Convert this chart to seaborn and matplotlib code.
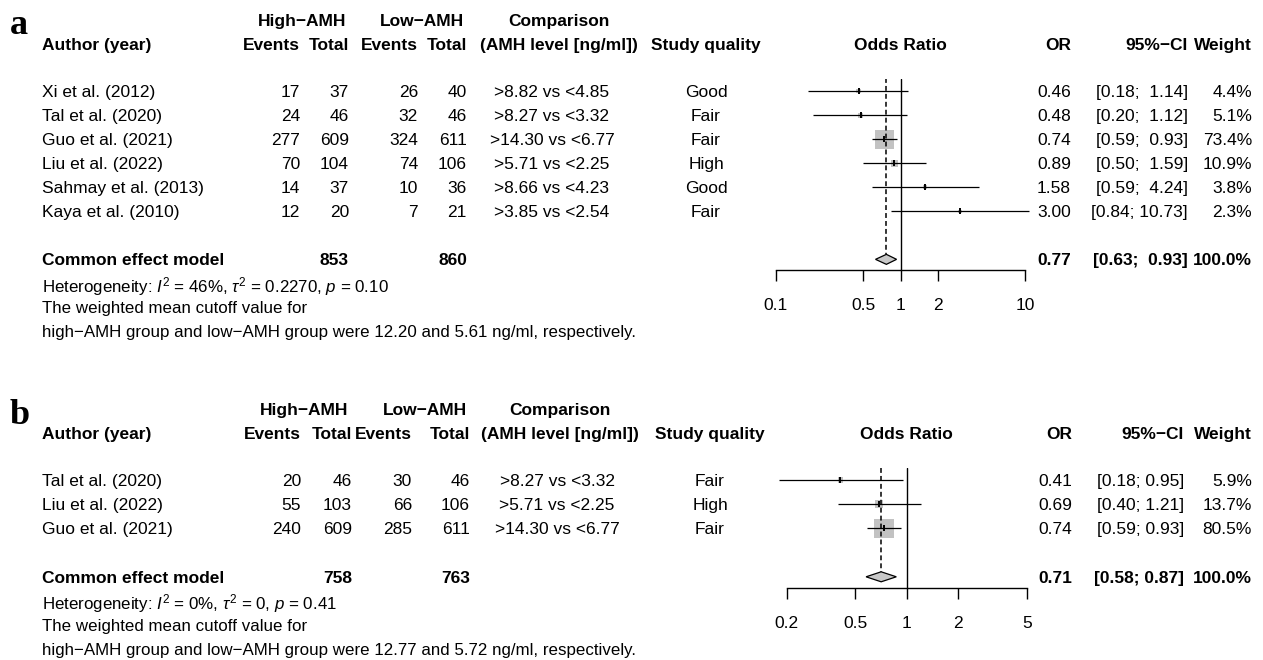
import matplotlib
matplotlib.use("Agg")
import matplotlib.pyplot as plt
from matplotlib.patches import Polygon
import seaborn as sns

# ---- panel a data ----
a_author = ["Xi et al. (2012)", "Tal et al. (2020)", "Guo et al. (2021)",
            "Liu et al. (2022)", "Sahmay et al. (2013)", "Kaya et al. (2010)"]
a_ev_high = [17, 24, 277, 70, 14, 12]
a_tot_high = [37, 46, 609, 104, 37, 20]
a_ev_low = [26, 32, 324, 74, 10, 7]
a_tot_low = [40, 46, 611, 106, 36, 21]
a_comp = [">8.82 vs <4.85", ">8.27 vs <3.32", ">14.30 vs <6.77",
          ">5.71 vs <2.25", ">8.66 vs <4.23", ">3.85 vs <2.54"]
a_quality = ["Good", "Fair", "Fair", "High", "Good", "Fair"]
a_or = [0.46, 0.48, 0.74, 0.89, 1.58, 3.00]
a_lo = [0.18, 0.20, 0.59, 0.50, 0.59, 0.84]
a_hi = [1.14, 1.12, 0.93, 1.59, 4.24, 10.73]
a_weight = [4.4, 5.1, 73.4, 10.9, 3.8, 2.3]
a_pooled = [0.77, 0.63, 0.93]
a_totals = [853, 860]
a_ticks = [0.1, 0.5, 1, 2, 10]
a_ticklabels = ["0.1", "0.5", "1", "2", "10"]
a_het = r"Heterogeneity: $I^2$ = 46%, $\tau^2$ = 0.2270, $p$ = 0.10"
a_note = ["The weighted mean cutoff value for",
          "high\u2212AMH group and low\u2212AMH group were 12.20 and 5.61 ng/ml, respectively."]

# ---- panel b data ----
b_author = ["Tal et al. (2020)", "Liu et al. (2022)", "Guo et al. (2021)"]
b_ev_high = [20, 55, 240]
b_tot_high = [46, 103, 609]
b_ev_low = [30, 66, 285]
b_tot_low = [46, 106, 611]
b_comp = [">8.27 vs <3.32", ">5.71 vs <2.25", ">14.30 vs <6.77"]
b_quality = ["Fair", "High", "Fair"]
b_or = [0.41, 0.69, 0.74]
b_lo = [0.18, 0.40, 0.59]
b_hi = [0.95, 1.21, 0.93]
b_weight = [5.9, 13.7, 80.5]
b_pooled = [0.71, 0.58, 0.87]
b_totals = [758, 763]
b_ticks = [0.2, 0.5, 1, 2, 5]
b_ticklabels = ["0.2", "0.5", "1", "2", "5"]
b_het = r"Heterogeneity: $I^2$ = 0%, $\tau^2$ = 0, $p$ = 0.41"
b_note = ["The weighted mean cutoff value for",
          "high\u2212AMH group and low\u2212AMH group were 12.77 and 5.72 ng/ml, respectively."]

W, H = 1263, 660
FS = 12.5
FS_SMALL = 12.2

sns.set_style("white")
plt.rcParams['font.family'] = ['Liberation Sans', 'DejaVu Sans']
plt.rcParams['mathtext.fontset'] = 'custom'
plt.rcParams['mathtext.rm'] = 'Liberation Sans'
plt.rcParams['mathtext.it'] = 'Liberation Sans:italic'
plt.rcParams['text.color'] = 'black'
plt.rcParams['xtick.color'] = 'black'
plt.rcParams['xtick.labelcolor'] = 'black'
plt.rcParams['axes.edgecolor'] = 'black'

fig = plt.figure(figsize=(W / 100, H / 100), dpi=100)
canvas = fig.add_axes([0, 0, 1, 1])
canvas.set_xlim(0, W)
canvas.set_ylim(H, 0)
canvas.axis('off')


def fmt_ci(lo, hi, wl, wh):
    return ["[%s; %s]" % (("%.2f" % l).rjust(wl), ("%.2f" % h).rjust(wh))
            for l, h in zip(lo, hi)]


def draw_panel(letter, top, author, ev_h, tot_h, ev_l, tot_l, comp, quality,
               odds, lo, hi, weight, pooled, totals, ticks, ticklabels, het, note,
               cols, fx0, fx1, step):
    # cols: x positions of the text columns
    (c_hi_lab, c_lo_lab, c_ev1, c_tot1, c_ev2, c_tot2, c_comp_h, c_comp, c_q,
     c_or, c_ci, c_w) = cols
    txt = dict(fontsize=FS, va='center_baseline')
    bold = dict(fontsize=FS, va='center_baseline', fontweight='bold')

    canvas.text(10, top + 2, letter, fontsize=26, fontweight='bold',
                family='Liberation Serif', va='center_baseline')
    h1 = top
    h2 = top + 24
    canvas.text(c_hi_lab, h1, "High\u2212AMH", ha='center', **bold)
    canvas.text(c_lo_lab, h1, "Low\u2212AMH", ha='center', **bold)
    canvas.text(c_comp_h, h1, "Comparison", ha='center', **bold)
    canvas.text(42, h2, "Author (year)", ha='left', **bold)
    canvas.text(c_ev1, h2, "Events", ha='right', **bold)
    canvas.text(c_tot1, h2, "Total", ha='right', **bold)
    canvas.text(c_ev2, h2, "Events", ha='right', **bold)
    canvas.text(c_tot2, h2, "Total", ha='right', **bold)
    canvas.text(c_comp_h, h2, "(AMH level [ng/ml])", ha='center', **bold)
    canvas.text(c_q, h2, "Study quality", ha='center', **bold)
    canvas.text((fx0 + fx1) / 2, h2, "Odds Ratio", ha='center', **bold)
    canvas.text(c_or, h2, "OR", ha='right', **bold)
    canvas.text(c_ci, h2, "95%\u2212CI", ha='right', **bold)
    canvas.text(c_w, h2, "Weight", ha='right', **bold)

    y0 = top + 71
    n = len(author)
    rows = [y0 + i * step for i in range(n)]
    y_pool = y0 + (n + 1) * step
    wl = max(len("%.2f" % v) for v in lo)
    wh = max(len("%.2f" % v) for v in hi)
    ci = fmt_ci(lo, hi, wl, wh)
    for i, y in enumerate(rows):
        canvas.text(42, y, author[i], ha='left', **txt)
        canvas.text(c_ev1, y, str(ev_h[i]), ha='right', **txt)
        canvas.text(c_tot1, y, str(tot_h[i]), ha='right', **txt)
        canvas.text(c_ev2, y, str(ev_l[i]), ha='right', **txt)
        canvas.text(c_tot2, y, str(tot_l[i]), ha='right', **txt)
        canvas.text(c_comp, y, comp[i], ha='center', **txt)
        canvas.text(c_q, y, quality[i], ha='center', **txt)
        canvas.text(c_or, y, "%.2f" % odds[i], ha='right', **txt)
        canvas.text(c_ci, y, ci[i], ha='right', **txt)
        canvas.text(c_w, y, "%.1f%%" % weight[i], ha='right', **txt)

    canvas.text(42, y_pool, "Common effect model", ha='left', **bold)
    canvas.text(c_tot1, y_pool, str(totals[0]), ha='right', **bold)
    canvas.text(c_tot2, y_pool, str(totals[1]), ha='right', **bold)
    canvas.text(c_or, y_pool, "%.2f" % pooled[0], ha='right', **bold)
    canvas.text(c_ci, y_pool, fmt_ci([pooled[1]], [pooled[2]], wl, wh)[0], ha='right', **bold)
    canvas.text(c_w, y_pool, "100.0%", ha='right', **bold)

    canvas.text(42, y_pool + step, het, ha='left', fontsize=FS_SMALL, va='center_baseline')
    for k, line in enumerate(note):
        canvas.text(42, y_pool + (k + 2) * step, line, ha='left',
                    fontsize=FS_SMALL, va='center_baseline')

    # forest plot axes, y in pixel units
    ax_top = y0 - 12.5
    ax_bot = y_pool + 11
    ax = fig.add_axes([fx0 / W, 1 - ax_bot / H, (fx1 - fx0) / W, (ax_bot - ax_top) / H])
    ax.set_xscale('log')
    ax.set_xlim(ticks[0], ticks[-1])
    ax.set_ylim(ax_bot, ax_top)
    ax.patch.set_alpha(0)
    for s in ['top', 'right', 'left']:
        ax.spines[s].set_visible(False)
    ax.spines['bottom'].set_linewidth(1)
    ax.spines['bottom'].set_color('black')
    ax.set_xticks(ticks)
    ax.set_xticklabels(ticklabels)
    ax.minorticks_off()
    ax.tick_params(axis='x', direction='out', length=8, width=1, color='black',
                   labelcolor='black', pad=12, labelsize=FS, bottom=True)
    ax.set_yticks([])

    ax.axvline(1, color='black', lw=1, zorder=2)
    dh = 5
    ax.plot([pooled[0], pooled[0]], [ax_top, y_pool - dh], color='black', lw=1.1,
            ls=(0, (3.2, 2)), zorder=2)
    ax.hlines(rows, lo, hi, color='black', lw=0.9, clip_on=False, zorder=3)
    sns.scatterplot(x=odds, y=rows, size=weight, sizes=(0, 250), size_norm=(0, 100),
                    marker='s', color='#c2c2c2', edgecolor='none', legend=False,
                    ax=ax, zorder=1.5)
    ax.plot(odds, rows, ls='none', marker='|', color='black', ms=5, mew=1.4, zorder=4)
    diamond = Polygon([(pooled[1], y_pool), (pooled[0], y_pool - dh),
                       (pooled[2], y_pool), (pooled[0], y_pool + dh)],
                      closed=True, facecolor='#c8c8c8', edgecolor='black', lw=0.9, zorder=4)
    ax.add_patch(diamond)
    ax.set_xlabel('')
    ax.set_ylabel('')


draw_panel("a", 20, a_author, a_ev_high, a_tot_high, a_ev_low, a_tot_low, a_comp,
           a_quality, a_or, a_lo, a_hi, a_weight, a_pooled, a_totals, a_ticks,
           a_ticklabels, a_het, a_note,
           (302, 422, 300, 349, 418, 467, 559, 552, 706, 1071, 1188, 1252),
           776, 1025, 24.05)
draw_panel("b", 409, b_author, b_ev_high, b_tot_high, b_ev_low, b_tot_low, b_comp,
           b_quality, b_or, b_lo, b_hi, b_weight, b_pooled, b_totals, b_ticks,
           b_ticklabels, b_het, b_note,
           (304, 425, 301, 352, 412, 470, 560, 557, 710, 1072, 1184, 1252),
           786.7, 1026.7, 24.2)

fig.savefig("out.png", dpi=100)
